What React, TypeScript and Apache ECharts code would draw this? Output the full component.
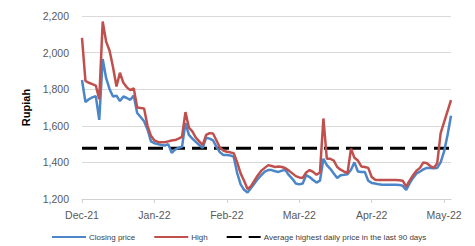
import React, { useEffect, useRef } from "react";
import * as echarts from "echarts";

const MONTH_LABELS = ["Dec-21", "Jan-22", "Feb-22", "Mar-22", "Apr-22", "May-22"];
const DAYS_PER_MONTH = 21;

const CLOSING = [
  1850, 1730, 1745, 1755, 1762, 1632, 1965, 1860, 1800, 1760,
  1765, 1735, 1760, 1752, 1742, 1765, 1670, 1648, 1625, 1580,
  1515, 1505, 1500, 1495, 1492, 1500, 1452, 1470, 1480, 1485,
  1615, 1550, 1530, 1512, 1495, 1480, 1535, 1530, 1520, 1485,
  1455, 1440, 1440, 1438, 1430, 1342, 1280, 1250, 1235, 1260,
  1285, 1310, 1330, 1350, 1358, 1358, 1352, 1348, 1355, 1358,
  1330, 1310, 1285, 1280, 1285, 1330, 1320, 1304, 1290, 1300,
  1420, 1385, 1365, 1340, 1315, 1330, 1332, 1335, 1360, 1400,
  1350, 1348, 1348, 1300, 1288, 1285, 1280, 1278, 1278, 1278,
  1278, 1278, 1277, 1272, 1250, 1285, 1315, 1340, 1350, 1362,
  1370, 1370, 1368, 1370, 1400, 1460, 1550, 1655,
];

const HIGH = [
  2080, 1845, 1835, 1828, 1820, 1745, 2170, 2060, 2010, 1920,
  1815, 1890, 1835, 1810, 1795, 1805, 1700, 1697, 1695, 1600,
  1545, 1520, 1512, 1510, 1510, 1515, 1520, 1522, 1530, 1540,
  1675, 1590, 1570, 1535, 1515, 1495, 1550, 1560, 1558, 1520,
  1480, 1465, 1458, 1455, 1450, 1400, 1340, 1300, 1255, 1270,
  1300, 1330, 1355, 1370, 1385, 1380, 1375, 1378, 1375, 1368,
  1355, 1340, 1325, 1318, 1315, 1345, 1358, 1348, 1332, 1345,
  1640, 1420, 1420, 1410, 1375, 1360, 1350, 1342, 1475, 1425,
  1410, 1378, 1375, 1370, 1320, 1305, 1304, 1304, 1304, 1304,
  1304, 1304, 1303, 1300, 1268, 1300, 1330, 1355, 1370, 1400,
  1395, 1380, 1370, 1395, 1560, 1620, 1680, 1740,
];

const AVG_HIGH_90 = 1478;

const CATEGORIES = CLOSING.map((_, i) => String(i));

export default function App() {
  const ref = useRef<HTMLDivElement>(null);

  useEffect(() => {
    if (!ref.current) return;
    const chart = echarts.init(ref.current, undefined, { renderer: "svg" });
    const axisFont = { fontFamily: "Liberation Sans", fontSize: 10.5, color: "#595959" };
    chart.setOption({
      animation: false,
      backgroundColor: "#ffffff",
      grid: { left: 82, right: 24, top: 16, bottom: 47, containLabel: false },
      legend: {
        left: 46,
        top: 228,
        itemWidth: 34,
        itemHeight: 8,
        itemGap: 18,
        itemStyle: { opacity: 0 },
        textStyle: { fontFamily: "Liberation Sans", fontSize: 8, color: "#404040", padding: [0, 0, 0, -2] },
        data: [
          "Closing price",
          "High",
          "Average highest daily price in the last 90 days",
        ],
      },
      xAxis: {
        type: "category",
        data: CATEGORIES,
        boundaryGap: false,
        axisLine: { show: true, lineStyle: { color: "#d0d0d0", width: 1 } },
        axisTick: {
          show: true,
          length: 4,
          interval: (i: number) => i % DAYS_PER_MONTH === 0,
          lineStyle: { color: "#d0d0d0" },
        },
        axisLabel: {
          ...axisFont,
          margin: 10,
          interval: (i: number) => i % DAYS_PER_MONTH === 0,
          formatter: (_v: string, i: number) => MONTH_LABELS[Math.round(i / DAYS_PER_MONTH)] ?? "",
        },
        splitLine: { show: false },
      },
      yAxis: {
        type: "value",
        min: 1200,
        max: 2200,
        interval: 200,
        name: "Rupiah",
        nameLocation: "middle",
        nameGap: 50,
        nameTextStyle: { fontFamily: "Liberation Sans", fontSize: 11, fontWeight: "bold", color: "#000000" },
        axisLine: { show: false },
        axisTick: { show: false },
        axisLabel: {
          ...axisFont,
          margin: 13,
          formatter: (v: number) => v.toLocaleString("en-US"),
        },
        splitLine: { lineStyle: { color: "#d9d9d9", width: 1 } },
      },
      series: [
        {
          name: "Average highest daily price in the last 90 days",
          type: "line",
          data: CATEGORIES.map(() => AVG_HIGH_90),
          symbol: "none",
          lineStyle: { color: "#000000", width: 3, type: [15, 7] },
          itemStyle: { color: "#000000" },
          z: 1,
        },
        {
          name: "Closing price",
          type: "line",
          data: CLOSING,
          symbol: "none",
          lineStyle: { color: "#4a86c8", width: 2.5 },
          itemStyle: { color: "#4a86c8" },
          z: 2,
        },
        {
          name: "High",
          type: "line",
          data: HIGH,
          symbol: "none",
          lineStyle: { color: "#c0504d", width: 2.5 },
          itemStyle: { color: "#c0504d" },
          z: 3,
        },
      ],
    });
    return () => chart.dispose();
  }, []);

  return (
    <div
      ref={ref}
      style={{ position: "absolute", left: 0, top: 0, width: 475, height: 246 }}
    />
  );
}
